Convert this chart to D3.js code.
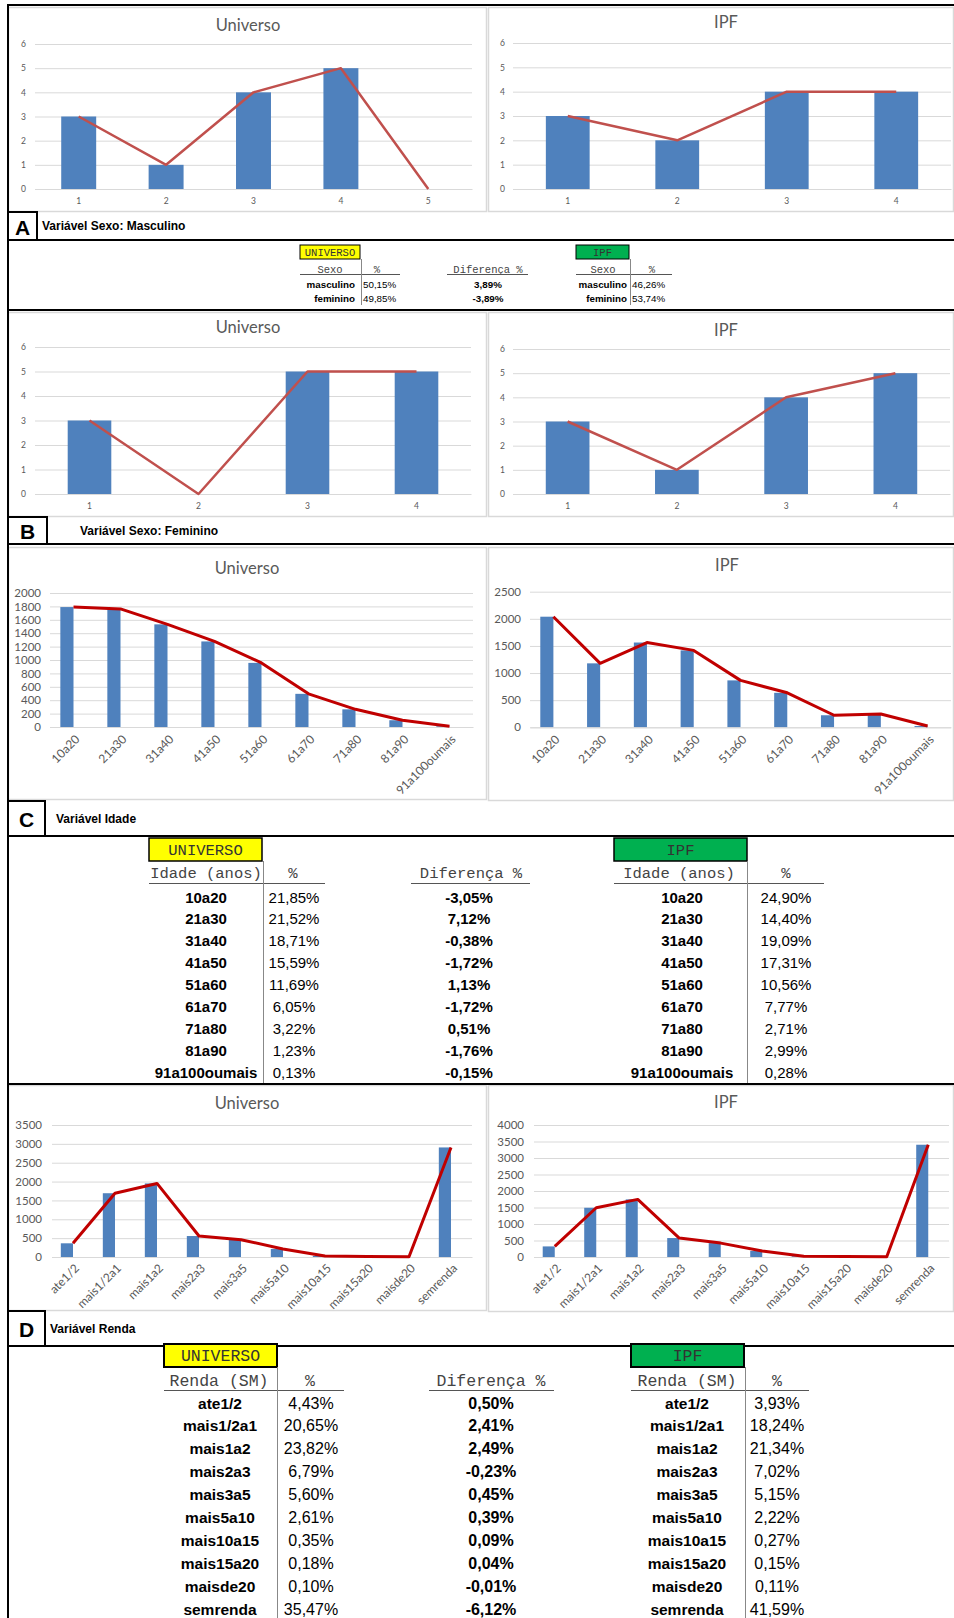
<!DOCTYPE html>
<html>
<head>
<meta charset="utf-8">
<script src="https://cdn.jsdelivr.net/npm/d3@7"></script>
<style>
  body { margin: 0; background: #fff; }
  svg { display: block; }
</style>
</head>
<body>
<svg id="fig" width="954" height="1618"></svg>
<script>
// ---------- chart data ----------
const mascUniCats = ["1", "2", "3", "4", "5"];
const mascUniBars = [3, 1, 4, 5, 0];
const mascUniLine = [3, 1, 4, 5, 0];
const sexCats = ["1", "2", "3", "4"];
const mascIpfBars = [3, 2, 4, 4];
const mascIpfLine = [3, 2, 4, 4];
const femUniBars = [3, 0, 5, 5];
const femUniLine = [3, 0, 5, 5];
const femIpfBars = [3, 1, 4, 5];
const femIpfLine = [3, 1, 4, 5];
const sexTicks = [0, 1, 2, 3, 4, 5, 6];

const ageCats = ["10a20", "21a30", "31a40", "41a50", "51a60", "61a70", "71a80", "81a90", "91a100oumais"];
const ageUni = [1790, 1762, 1532, 1277, 957, 495, 264, 101, 11];
const ageIpf = [2039, 1179, 1563, 1418, 865, 636, 222, 245, 23];
const ageUniTicks = [0, 200, 400, 600, 800, 1000, 1200, 1400, 1600, 1800, 2000];
const ageIpfTicks = [0, 500, 1000, 1500, 2000, 2500];

const incomeCats = ["ate1/2", "mais1/2a1", "mais1a2", "mais2a3", "mais3a5", "mais5a10", "mais10a15", "mais15a20", "maisde20", "semrenda"];
const incomeUni = [363, 1691, 1951, 556, 459, 214, 29, 15, 8, 2905];
const incomeIpf = [321, 1492, 1746, 574, 421, 182, 22, 12, 9, 3402];
const incomeUniTicks = [0, 500, 1000, 1500, 2000, 2500, 3000, 3500];
const incomeIpfTicks = [0, 500, 1000, 1500, 2000, 2500, 3000, 3500, 4000];

// ---------- table data ----------
const sexRows = ["masculino", "feminino"];
const sexUniPct = ["50,15%", "49,85%"];
const sexDiff = ["3,89%", "-3,89%"];
const sexIpfPct = ["46,26%", "53,74%"];

const ageUniPct = ["21,85%", "21,52%", "18,71%", "15,59%", "11,69%", "6,05%", "3,22%", "1,23%", "0,13%"];
const ageDiff = ["-3,05%", "7,12%", "-0,38%", "-1,72%", "1,13%", "-1,72%", "0,51%", "-1,76%", "-0,15%"];
const ageIpfPct = ["24,90%", "14,40%", "19,09%", "17,31%", "10,56%", "7,77%", "2,71%", "2,99%", "0,28%"];

const incomeUniPct = ["4,43%", "20,65%", "23,82%", "6,79%", "5,60%", "2,61%", "0,35%", "0,18%", "0,10%", "35,47%"];
const incomeDiff = ["0,50%", "2,41%", "2,49%", "-0,23%", "0,45%", "0,39%", "0,09%", "0,04%", "-0,01%", "-6,12%"];
const incomeIpfPct = ["3,93%", "18,24%", "21,34%", "7,02%", "5,15%", "2,22%", "0,27%", "0,15%", "0,11%", "41,59%"];

// ---------- styles ----------
const BAR = "#4f81bd";
const CHART_FONT = "Lato, 'Open Sans', sans-serif";
const SANS = "'Liberation Sans', Arial, sans-serif";
const MONO = "'Liberation Mono', 'Courier New', monospace";

const svg = d3.select("#fig");
svg.append("rect").attr("width", 954).attr("height", 1618).attr("fill", "#fff");

// ---------- combo chart: bars + line ----------
function comboChart(o) {
  const g = svg.append("g");
  const [ax0, ay0, ax1, ay1] = o.area;
  const [px0, py0, px1, py1] = o.plot;

  g.append("rect")
    .attr("x", ax0 + 0.5).attr("y", ay0 + 0.5)
    .attr("width", ax1 - ax0 - 1).attr("height", ay1 - ay0 - 1)
    .attr("fill", "#fff").attr("stroke", "#d9d9d9").attr("stroke-width", 1.5);

  g.append("text")
    .attr("x", o.titleX).attr("y", o.titleY)
    .attr("text-anchor", "middle").attr("dominant-baseline", "central")
    .attr("fill", "#595959")
    .style("font-family", CHART_FONT).style("font-size", o.titleSize + "px")
    .text(o.title);

  const x = d3.scaleBand().domain(o.cats).range([px0, px1]);
  const y = d3.scaleLinear().domain([0, d3.max(o.ticks)]).range([py1, py0]);
  const cx = c => x(c) + x.bandwidth() / 2;

  // value axis with gridlines
  const ya = g.append("g")
    .attr("transform", `translate(${px0},0)`)
    .call(d3.axisLeft(y).tickValues(o.ticks)
      .tickSize(-(px1 - px0)).tickPadding(px0 - o.tickRight)
      .tickFormat(d3.format("d")));
  ya.select(".domain").remove();
  ya.selectAll(".tick line").attr("stroke", "#d9d9d9").attr("stroke-width", 1);
  ya.selectAll(".tick text")
    .attr("fill", "#595959")
    .style("font-family", CHART_FONT).style("font-size", o.tickSize + "px");

  // bars
  const bw = x.bandwidth() * o.barRatio;
  g.append("g").selectAll("rect")
    .data(o.cats.map((c, i) => ({ c, v: o.bars[i] })))
    .join("rect")
    .attr("x", d => o.barMode === "center" ? cx(d.c) - bw / 2 : cx(d.c) - bw)
    .attr("y", d => y(d.v))
    .attr("width", bw)
    .attr("height", d => y(0) - y(d.v))
    .attr("fill", BAR);

  // category axis
  const xa = g.append("g")
    .attr("transform", `translate(0,${py1})`)
    .call(d3.axisBottom(x).tickSize(0).tickSizeOuter(0).tickPadding(o.xLabelPad));
  xa.select(".domain").attr("stroke", "#d9d9d9");
  const xt = xa.selectAll(".tick text")
    .attr("fill", "#595959")
    .style("font-family", CHART_FONT).style("font-size", o.xTickSize + "px");
  if (o.rotate) {
    xt.attr("text-anchor", "end")
      .attr("x", 0).attr("y", 0).attr("dy", "0.35em")
      .attr("transform", `translate(${o.rotDx},${o.xLabelPad}) rotate(-45)`);
  }

  // line series
  const line = d3.line().x((d, i) => cx(o.cats[i])).y(d => y(d));
  g.append("path")
    .datum(o.line)
    .attr("d", line)
    .attr("fill", "none")
    .attr("stroke", o.lineColor)
    .attr("stroke-width", o.lineWidth)
    .attr("stroke-linejoin", "round");
}

const sexStyle = {
  ticks: sexTicks, titleSize: 16.5, tickSize: 8.5, xTickSize: 8.5, xLabelPad: 9,
  barRatio: 0.4, barMode: "center", lineColor: "#c0504d", lineWidth: 2.5, rotate: false
};

comboChart(Object.assign({}, sexStyle, {
  area: [8, 7, 487, 212], plot: [35, 44, 472, 189], tickRight: 26,
  title: "Universo", titleX: 248, titleY: 25,
  cats: mascUniCats, bars: mascUniBars, line: mascUniLine
}));
comboChart(Object.assign({}, sexStyle, {
  area: [488, 7, 954, 212], plot: [513, 43, 951, 189], tickRight: 505,
  title: "IPF", titleX: 726, titleY: 22,
  cats: sexCats, bars: mascIpfBars, line: mascIpfLine
}));
comboChart(Object.assign({}, sexStyle, {
  area: [8, 312, 487, 517], plot: [35, 347, 471, 494], tickRight: 26,
  title: "Universo", titleX: 248, titleY: 327,
  cats: sexCats, bars: femUniBars, line: femUniLine
}));
comboChart(Object.assign({}, sexStyle, {
  area: [488, 312, 954, 517], plot: [513, 349, 950, 494], tickRight: 505,
  title: "IPF", titleX: 726, titleY: 330,
  cats: sexCats, bars: femIpfBars, line: femIpfLine
}));

const bigStyle = {
  titleSize: 16.5, tickSize: 11.5, xTickSize: 12, barRatio: 0.28, barMode: "left",
  lineColor: "#c00000", lineWidth: 3, rotate: true, rotDx: 4
};

comboChart(Object.assign({}, bigStyle, {
  area: [8, 547, 487, 800], plot: [50, 593, 473, 727], tickRight: 41, xLabelPad: 10,
  title: "Universo", titleX: 247, titleY: 568, ticks: ageUniTicks,
  cats: ageCats, bars: ageUni, line: ageUni
}));
comboChart(Object.assign({}, bigStyle, {
  area: [488, 547, 954, 801], plot: [530, 591.7, 951, 727.3], tickRight: 521, xLabelPad: 10,
  title: "IPF", titleX: 727, titleY: 565, ticks: ageIpfTicks,
  cats: ageCats, bars: ageIpf, line: ageIpf
}));
comboChart(Object.assign({}, bigStyle, {
  area: [8, 1085, 487, 1311], plot: [52, 1125, 472, 1257], tickRight: 42, xLabelPad: 9,
  title: "Universo", titleX: 247, titleY: 1103, ticks: incomeUniTicks, barRatio: 0.29,
  cats: incomeCats, bars: incomeUni, line: incomeUni
}));
comboChart(Object.assign({}, bigStyle, {
  area: [488, 1085, 954, 1312], plot: [534, 1125, 949, 1257], tickRight: 524, xLabelPad: 9,
  title: "IPF", titleX: 726, titleY: 1102, ticks: incomeIpfTicks, barRatio: 0.29,
  cats: incomeCats, bars: incomeIpf, line: incomeIpf
}));

// ---------- frame and panel labels ----------
const frame = svg.append("g").attr("stroke", "#000").attr("stroke-width", 2);
[5, 240, 310, 544, 836, 1084, 1346].forEach(yy => {
  frame.append("line").attr("x1", 8).attr("x2", 954).attr("y1", yy).attr("y2", yy);
});
frame.append("line").attr("x1", 8).attr("x2", 8).attr("y1", 4).attr("y2", 1618);

function panelLabel(letter, box, caption, capX) {
  const [x0, y0, x1, y1] = box;
  svg.append("rect").attr("x", x0).attr("y", y0).attr("width", x1 - x0).attr("height", y1 - y0)
    .attr("fill", "#fff").attr("stroke", "#000").attr("stroke-width", 2);
  svg.append("text").attr("x", (x0 + x1) / 2).attr("y", (y0 + y1) / 2 + 1)
    .attr("text-anchor", "middle").attr("dominant-baseline", "central")
    .style("font-family", SANS).style("font-weight", "bold").style("font-size", "21px")
    .text(letter);
  svg.append("text").attr("x", capX).attr("y", (y0 + y1) / 2)
    .attr("dominant-baseline", "central")
    .style("font-family", SANS).style("font-weight", "bold").style("font-size", "12px")
    .text(caption);
}
panelLabel("A", [8, 212, 37, 240], "Variável Sexo: Masculino", 42);
panelLabel("B", [8, 517, 47, 544], "Variável Sexo: Feminino", 80);
panelLabel("C", [8, 801, 45, 836], "Variável Idade", 56);
panelLabel("D", [8, 1311, 45, 1346], "Variável Renda", 50);

// ---------- percentage tables ----------
function txt(g, x, y, s, size, opts = {}) {
  return g.append("text").attr("x", x).attr("y", y)
    .attr("text-anchor", opts.anchor || "middle").attr("dominant-baseline", "central")
    .attr("fill", opts.fill || "#000")
    .style("font-family", opts.family || SANS)
    .style("font-weight", opts.bold ? "bold" : "normal")
    .style("font-size", size + "px")
    .text(s);
}

function groupTable(t) {
  const g = svg.append("g");
  g.append("rect").attr("x", t.box[0]).attr("y", t.box[1])
    .attr("width", t.box[2] - t.box[0]).attr("height", t.box[3] - t.box[1])
    .attr("fill", t.fill).attr("stroke", "#000").attr("stroke-width", t.boxStroke);
  txt(g, (t.box[0] + t.box[2]) / 2, (t.box[1] + t.box[3]) / 2 + 1, t.boxText, t.monoSize,
    { family: MONO, fill: "#333" });
  txt(g, t.headX, t.headY, t.head, t.monoSize, { family: MONO, fill: "#444" });
  txt(g, t.pctX, t.headY, "%", t.monoSize, { family: MONO, fill: "#444" });
  g.append("line").attr("x1", t.box[0]).attr("x2", t.ulEnd).attr("y1", t.ulY).attr("y2", t.ulY)
    .attr("stroke", "#555").attr("stroke-width", 1.2);
  g.append("line").attr("x1", t.divX).attr("x2", t.divX).attr("y1", t.box[3]).attr("y2", t.divEnd)
    .attr("stroke", "#888").attr("stroke-width", 1);
  t.rows.forEach((r, i) => {
    const yy = t.rowY0 + i * t.rowStep;
    txt(g, t.labelX, yy, r, t.labelSize, { bold: true, anchor: t.labelAnchor });
    txt(g, t.valX, yy, t.vals[i], t.valSize, { anchor: t.valAnchor });
  });
}

function diffColumn(t) {
  const g = svg.append("g");
  txt(g, t.x, t.headY, "Diferença %", t.monoSize, { family: MONO, fill: "#444" });
  g.append("line").attr("x1", t.ul[0]).attr("x2", t.ul[1]).attr("y1", t.ulY).attr("y2", t.ulY)
    .attr("stroke", "#555").attr("stroke-width", 1.2);
  t.vals.forEach((v, i) => {
    txt(g, t.valX, t.rowY0 + i * t.rowStep, v, t.size, { bold: true });
  });
}

// Sexo
const sexCommon = { monoSize: 10.5, headY: 270, ulY: 274.5, divEnd: 305, rowY0: 284, rowStep: 14,
  labelSize: 9.8, valSize: 9.8, labelAnchor: "end", valAnchor: "start", boxStroke: 1,
  head: "Sexo", rows: sexRows };
groupTable(Object.assign({}, sexCommon, {
  box: [300, 245, 360, 259], fill: "#ffff00", boxText: "UNIVERSO",
  headX: 330, pctX: 377, ulEnd: 400, divX: 361.5, labelX: 355, valX: 363, vals: sexUniPct
}));
groupTable(Object.assign({}, sexCommon, {
  box: [576, 245, 629, 259], fill: "#00b050", boxText: "IPF",
  headX: 603, pctX: 652, ulEnd: 672, divX: 630.5, labelX: 627, valX: 632, vals: sexIpfPct
}));
diffColumn({ x: 488, headY: 270, monoSize: 10.5, ul: [447, 528], ulY: 274.5,
  valX: 488, rowY0: 284, rowStep: 14, size: 9.8, vals: sexDiff });

// Idade
const ageCommon = { monoSize: 15.5, headY: 874, ulY: 883.5, divEnd: 1083, rowY0: 897, rowStep: 21.9,
  labelSize: 15, valSize: 15, labelAnchor: "middle", valAnchor: "middle", boxStroke: 1.5,
  head: "Idade (anos)", rows: ageCats };
groupTable(Object.assign({}, ageCommon, {
  box: [149, 838, 262, 861], fill: "#ffff00", boxText: "UNIVERSO",
  headX: 206, pctX: 293, ulEnd: 325, divX: 263.5, labelX: 206, valX: 294, vals: ageUniPct
}));
groupTable(Object.assign({}, ageCommon, {
  box: [614, 838, 747, 861], fill: "#00b050", boxText: "IPF",
  headX: 679, pctX: 786, ulEnd: 824, divX: 747.5, labelX: 682, valX: 786, vals: ageIpfPct
}));
diffColumn({ x: 471, headY: 874, monoSize: 15.5, ul: [411, 530], ulY: 883.5,
  valX: 469, rowY0: 897, rowStep: 21.9, size: 15, vals: ageDiff });

// Renda
const incCommon = { monoSize: 16.5, headY: 1381, ulY: 1390.5, divEnd: 1618, rowY0: 1403, rowStep: 22.9,
  labelSize: 15.5, valSize: 16, labelAnchor: "middle", valAnchor: "middle", boxStroke: 2,
  head: "Renda (SM)", rows: incomeCats };
groupTable(Object.assign({}, incCommon, {
  box: [164, 1344, 277, 1367], fill: "#ffff00", boxText: "UNIVERSO",
  headX: 219, pctX: 310, ulEnd: 344, divX: 277.5, labelX: 220, valX: 311, vals: incomeUniPct
}));
groupTable(Object.assign({}, incCommon, {
  box: [631, 1344, 744, 1367], fill: "#00b050", boxText: "IPF",
  headX: 687, pctX: 777, ulEnd: 809, divX: 745.5, labelX: 687, valX: 777, vals: incomeIpfPct
}));
diffColumn({ x: 491, headY: 1381, monoSize: 16.5, ul: [429, 554], ulY: 1390.5,
  valX: 491, rowY0: 1403, rowStep: 22.9, size: 16, vals: incomeDiff });
</script>
</body>
</html>
